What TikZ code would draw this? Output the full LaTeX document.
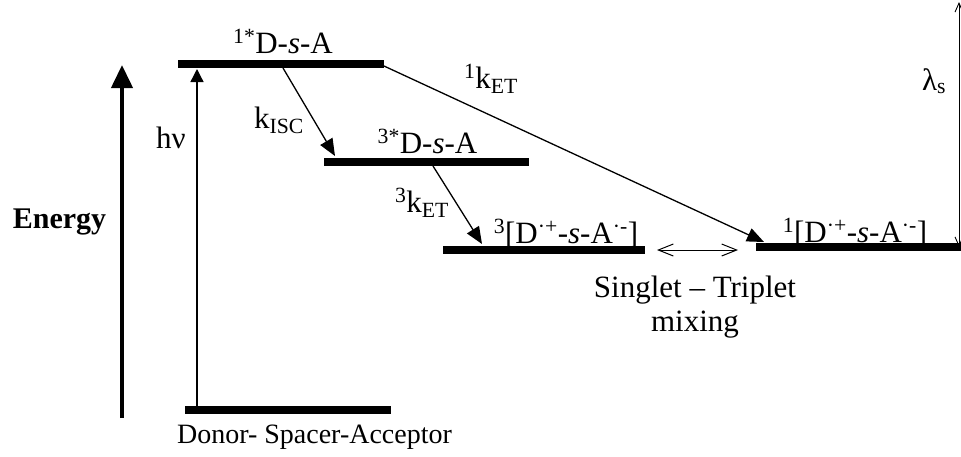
\documentclass[tikz,border=0pt]{standalone}
\usepackage{fontspec}
\setmainfont{Liberation Serif}
\usetikzlibrary{arrows.meta}
\newcommand\supt[1]{\textsuperscript{#1}}
\newcommand\subt[1]{\textsubscript{#1}}
\tikzset{
  level/.style={line width=8pt},
  lbl/.style={anchor=base, inner sep=0pt, font=\fontsize{31}{36}\selectfont},
  trans/.style={line width=1.3pt, -{Triangle[length=17pt,width=14pt]}},
  thinarr/.style={line width=1pt, {Straight Barb[length=15pt,width=12pt]}-{Straight Barb[length=15pt,width=12pt]}},
}
\begin{document}
\begin{tikzpicture}[x=1pt,y=-1pt]
\useasboundingbox (0,0) rectangle (961,456);
% level endpoints
\coordinate (S1a) at (178,64);  \coordinate (S1b) at (384,64);
\coordinate (T1a) at (324,162); \coordinate (T1b) at (529,162);
\coordinate (T3a) at (443,250); \coordinate (T3b) at (645,250);
\coordinate (C1a) at (756,247); \coordinate (C1b) at (961,247);
\coordinate (G0a) at (185,409.5); \coordinate (G0b) at (391,409.5);
\draw[level] (S1a) -- (S1b);
\draw[level] (T1a) -- (T1b);
\draw[level] (T3a) -- (T3b);
\draw[level] (C1a) -- (C1b);
\draw[level] (G0a) -- (G0b);
% energy axis
\coordinate (Ebot) at (122,418); \coordinate (Etop) at (122,65);
\draw[line width=4pt, -{Triangle[length=23pt,width=21pt]}] (Ebot) -- (Etop);
\node[lbl, font=\fontsize{30}{36}\selectfont\bfseries] (energy) at (59.5,228) {Energy};
% h nu
\coordinate (hvb) at (197,406); \coordinate (hvt) at (197,69);
\draw[line width=1.3pt, -{Triangle[length=13pt,width=13pt]}] (hvb) -- (hvt);
\node[lbl] (hv) at (171,148) {hν};
% kISC
\coordinate (isc1) at (283,68); \coordinate (isc2) at (335,156);
\draw[trans] (isc1) -- (isc2);
\node[lbl] (kisc) at (279,128) {k\subt{ISC}};
% 1kET
\coordinate (et1a) at (384,66); \coordinate (et1b) at (764,242);
\draw[trans] (et1a) -- (et1b);
\node[lbl] (ket1) at (491,88) {\supt{1}k\subt{ET}};
% 3kET
\coordinate (et3a) at (433,166); \coordinate (et3b) at (482,244);
\draw[trans] (et3a) -- (et3b);
\node[lbl] (ket3) at (422,212) {\supt{3}k\subt{ET}};
% mixing
\coordinate (mixa) at (657,250); \coordinate (mixb) at (738,250);
\draw[thinarr] (mixa) -- (mixb);
\node[lbl] (st) at (695,297) {Singlet – Triplet};
\node[lbl] (mix) at (695,331) {mixing};
% lambda
\coordinate (lama) at (959,2); \coordinate (lamb) at (959,247);
\draw[line width=0.9pt, {Straight Barb[length=9pt,width=8pt]}-{Straight Barb[length=9pt,width=8pt]}] (lama) -- (lamb);
\node[lbl] (lam) at (934,90) {λ\subt{s}};
% level labels
\node[lbl] (s1l) at (283,53) {\supt{1*}D-\textit{s}-A};
\node[lbl] (t1l) at (427.5,153) {\supt{3*}D-\textit{s}-A};
\node[lbl] (t3l) at (566,243) {\supt{3}[D\supt{·+}-\textit{s}-A\supt{·-}]};
\node[lbl] (c1l) at (855,242) {\supt{1}[D\supt{·+}-\textit{s}-A\supt{·-}]};
\node[lbl, font=\fontsize{28}{34}\selectfont] (dsa) at (314.5,443) {Donor- Spacer-Acceptor};
\end{tikzpicture}
\end{document}
